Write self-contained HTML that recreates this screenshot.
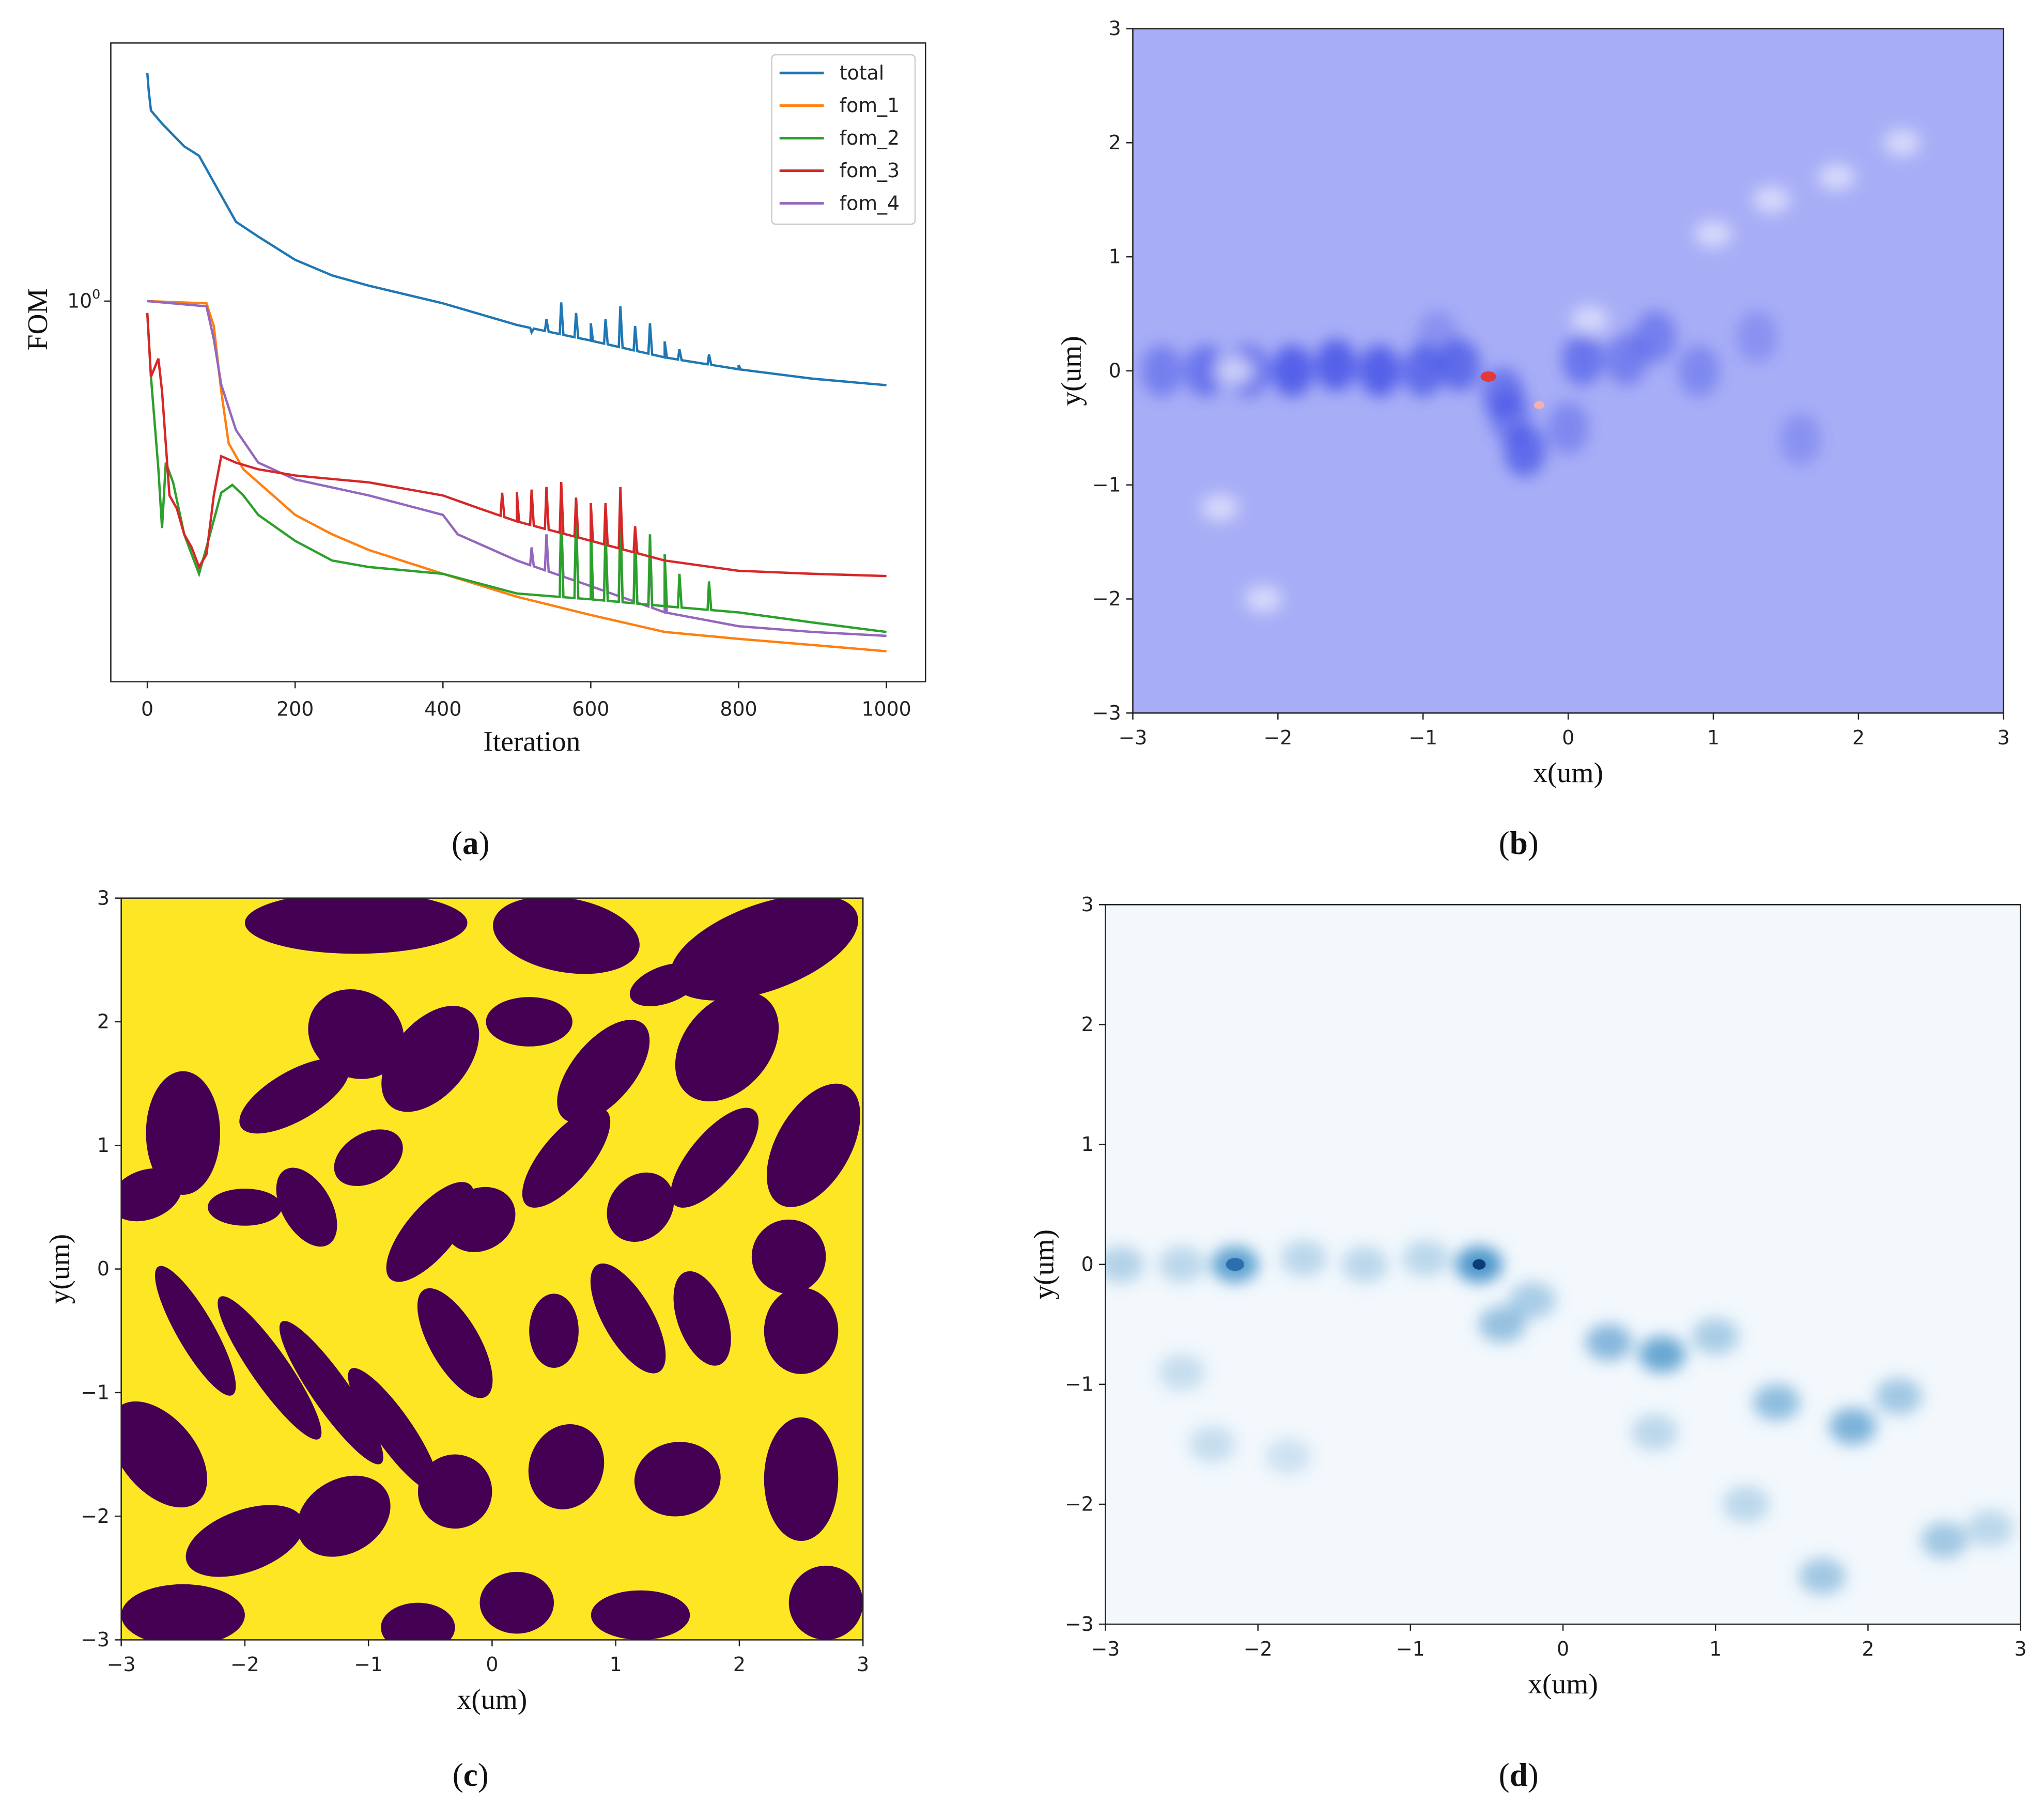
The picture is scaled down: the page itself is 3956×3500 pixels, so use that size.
<!DOCTYPE html>
<html><head><meta charset="utf-8">
<style>
html,body{margin:0;padding:0;background:#fff;}
svg{display:block;}
.tk{font-family:"DejaVu Sans","Liberation Sans",sans-serif;font-size:15px;fill:#222;}
.lb{font-family:"Liberation Serif",serif;font-size:22px;fill:#111;}
.pl{font-family:"Liberation Serif",serif;font-size:25px;fill:#111;}
.lg{font-family:"DejaVu Sans","Liberation Sans",sans-serif;font-size:15px;fill:#222;}
</style></head>
<body>
<svg id="fig" width="3956" height="3500" viewBox="0 0 1568 1387" preserveAspectRatio="none" xmlns="http://www.w3.org/2000/svg">
<defs>
<clipPath id="cb"><rect x="869" y="22" width="668" height="525"/></clipPath>
<clipPath id="cc"><rect x="93" y="689" width="569" height="569"/></clipPath>
<clipPath id="cd"><rect x="848" y="694" width="702" height="552"/></clipPath>
<filter id="blur4"><feGaussianBlur stdDeviation="6"/></filter>
<filter id="blur2"><feGaussianBlur stdDeviation="1.2"/></filter>
</defs>
<g id="pa"></g>
<g id="pb"></g>
<g id="pc"></g>
<g id="pd"></g>
</svg>
<script>
// ---------- Panel (a) data ----------
const xTicks = [0, 200, 400, 600, 800, 1000];
const seriesNames = ["total", "fom_1", "fom_2", "fom_3", "fom_4"];
const seriesColors = ["#1f77b4", "#ff7f0e", "#2ca02c", "#d62728", "#9467bd"];
const totalIter = [0,2,5,20,50,70,90,120,150,200,250,300,400,500,600,700,800,900,1000];
const totalVal  = [2.74,2.53,2.32,2.19,1.98,1.90,1.69,1.42,1.33,1.20,1.12,1.07,0.99,0.90,0.84,0.78,0.74,0.71,0.69];
const fom1Iter = [0,80,90,100,110,130,200,250,300,400,500,600,700,800,900,1000];
const fom1Val  = [1.0,0.99,0.896,0.672,0.534,0.476,0.389,0.357,0.333,0.300,0.271,0.250,0.232,0.225,0.219,0.213];
const fom2Iter = [0,5,15,20,25,35,50,60,70,80,100,115,130,150,200,250,300,400,500,600,700,800,900,1000];
const fom2Val  = [0.949,0.716,0.476,0.367,0.490,0.449,0.357,0.327,0.300,0.337,0.429,0.444,0.424,0.389,0.347,0.318,0.309,0.300,0.275,0.268,0.260,0.253,0.242,0.232];
const fom3Iter = [0,5,15,20,30,40,50,60,70,80,90,100,120,150,200,300,400,450,500,600,700,800,900,1000];
const fom3Val  = [0.949,0.716,0.776,0.672,0.424,0.400,0.357,0.337,0.309,0.327,0.424,0.504,0.490,0.476,0.463,0.449,0.424,0.400,0.378,0.347,0.318,0.304,0.300,0.297];
const fom4Iter = [0,80,90,100,120,150,200,300,400,420,500,600,700,800,900,1000];
const fom4Val  = [1.0,0.977,0.846,0.692,0.566,0.490,0.455,0.424,0.389,0.357,0.318,0.284,0.253,0.238,0.232,0.228];
const spikeIter = [480,500,520,540,560,580,600,620,640,660,680,700,720,760,800];
const totalSpike = [0,0,0.871,0.923,0.994,0.949,0.907,0.923,0.977,0.896,0.907,0.837,0.808,0.79,0.754];
const fom2Spike  = [0,0,0,0,0.40,0.40,0.389,0.367,0.395,0.367,0.357,0.327,0.300,0.29,0];
const fom3Spike  = [0.429,0.43,0.435,0.44,0.45,0.42,0.41,0.41,0.44,0.37,0,0,0,0,0];
const fom4Spike  = [0,0,0.337,0.357,0.378,0.357,0.347,0.357,0.378,0.337,0.337,0.300,0,0,0];

const NS = "http://www.w3.org/2000/svg";
function mk(tag, attrs, parent) {
  const e = document.createElementNS(NS, tag);
  for (const k in attrs) e.setAttribute(k, attrs[k]);
  parent.appendChild(e);
  return e;
}
function txt(parent, x, y, s, cls, anchor, extra) {
  const t = mk("text", Object.assign({x: x, y: y, class: cls, "text-anchor": anchor || "middle"}, extra || {}), parent);
  t.textContent = s;
  return t;
}
// axes for (a)
const A = {x0: 85, x1: 710, y0: 33, y1: 523};
const ax = i => 113 + (i / 1000) * (680 - 113);
const ay = v => 231 - Math.log10(v) * 400;

const pa = document.getElementById("pa");
const frameA = mk("rect", {x: A.x0, y: A.y0, width: A.x1 - A.x0, height: A.y1 - A.y0, fill: "none", stroke: "#222", "stroke-width": 1}, pa);


xTicks.forEach(t => {
  mk("line", {x1: ax(t), x2: ax(t), y1: A.y1, y2: A.y1 + 5, stroke: "#222"}, pa);
  const tl = txt(pa, ax(t), A.y1 + 26, String(t), "tk");
  
  
});
mk("line", {x1: A.x0 - 5, x2: A.x0, y1: ay(1), y2: ay(1), stroke: "#222"}, pa);
const yt = txt(pa, A.x0 - 8, ay(1) + 5, "10", "tk", "end");
const sup = mk("tspan", {dy: -7, "font-size": 10}, yt); sup.textContent = "0";


const xl = txt(pa, 408, 576, "Iteration", "lb");


const yl = txt(pa, 36, 245, "FOM", "lb", "middle", {transform: "rotate(-90 36 245)"});


const la = txt(pa, 361, 655, "", "pl");
la.innerHTML = '(<tspan font-weight="bold">a</tspan>)';



function interp(iters, vals, i) {
  for (let k = 0; k < iters.length - 1; k++) {
    if (i >= iters[k] && i <= iters[k + 1]) {
      const f = (i - iters[k]) / (iters[k + 1] - iters[k]);
      return Math.pow(10, Math.log10(vals[k]) * (1 - f) + Math.log10(vals[k + 1]) * f);
    }
  }
  return vals[vals.length - 1];
}
function buildPts(iters, vals, spikes) {
  let pts = iters.map((t, k) => [t, vals[k]]);
  spikeIter.forEach((s, k) => {
    if (spikes && spikes[k] > 0) {
      const b1 = interp(iters, vals, s - 2), b2 = interp(iters, vals, s + 3);
      pts.push([s - 2, b1], [s, spikes[k]], [s + 3, b2]);
    }
  });
  pts.sort((p, q) => p[0] - q[0]);
  return pts;
}
const allSeries = [
  [totalIter, totalVal, totalSpike],
  [fom1Iter, fom1Val, null],
  [fom2Iter, fom2Val, fom2Spike],
  [fom3Iter, fom3Val, fom3Spike],
  [fom4Iter, fom4Val, fom4Spike]
];
const drawOrder = [1, 4, 2, 3, 0];
drawOrder.forEach(si => {
  const s = allSeries[si];
  const pts = buildPts(s[0], s[1], s[2]);
  const d = pts.map((p, k) => (k ? "L" : "M") + ax(p[0]).toFixed(1) + " " + ay(p[1]).toFixed(1)).join(" ");
  const path = mk("path", {d: d, fill: "none", stroke: seriesColors[si], "stroke-width": 1.8}, pa);
  
  
});
// legend
const lgBox = mk("rect", {x: 592, y: 42, width: 110, height: 130, fill: "#fff", "fill-opacity": 0.85, stroke: "#ccc", rx: 3}, pa);


seriesNames.forEach((n, k) => {
  const y = 56 + k * 25;
  const ln = mk("line", {x1: 598, x2: 632, y1: y, y2: y, stroke: seriesColors[k], "stroke-width": 2}, pa);
  
  
  const t = txt(pa, 644, y + 5, n, "lg", "start");
  
  
});

// ---------- heatmap axes helper ----------
const umTicks = [-3, -2, -1, 0, 1, 2, 3];
function umLabel(t) { return t < 0 ? "\u2212" + (-t) : String(t); }
function heatAxes(g, B, letter, lx, ly) {
  const fx = u => B.x0 + (u + 3) / 6 * (B.x1 - B.x0);
  const fy = u => B.y1 - (u + 3) / 6 * (B.y1 - B.y0);
  const fr = mk("rect", {x: B.x0, y: B.y0, width: B.x1 - B.x0, height: B.y1 - B.y0, fill: "none", stroke: "#222"}, g);
  
  
  umTicks.forEach(t => {
    mk("line", {x1: fx(t), x2: fx(t), y1: B.y1, y2: B.y1 + 5, stroke: "#222"}, g);
    const a = txt(g, fx(t), B.y1 + 24, umLabel(t), "tk");
    
    
    mk("line", {x1: B.x0 - 5, x2: B.x0, y1: fy(t), y2: fy(t), stroke: "#222"}, g);
    const b = txt(g, B.x0 - 9, fy(t) + 5, umLabel(t), "tk", "end");
    
    
  });
  const xlab = txt(g, (B.x0 + B.x1) / 2, B.y1 + 53, "x(um)", "lb");
  
  
  const yx = B.x0 - 40, yy = (B.y0 + B.y1) / 2;
  const ylab = txt(g, yx, yy, "y(um)", "lb", "middle", {transform: "rotate(-90 " + yx + " " + yy + ")"});
  
  
  const pl = txt(g, lx, ly, "", "pl");
  pl.innerHTML = '(<tspan font-weight="bold">' + letter + '</tspan>)';
  
  
  return [fx, fy];
}

// ---------- Panel (b) ----------
const pb = document.getElementById("pb");
const Bb = {x0: 869, x1: 1537, y0: 22, y1: 547};
const bx = u => Bb.x0 + (u + 3) / 6 * (Bb.x1 - Bb.x0);
const by = u => Bb.y1 - (u + 3) / 6 * (Bb.y1 - Bb.y0);
const gb = mk("g", {"clip-path": "url(#cb)"}, pb);


mk("rect", {x: Bb.x0, y: Bb.y0, width: 668, height: 525, fill: "#a8aef6"}, gb);
const bBlobX = [-2.8,-2.5,-2.2,-1.9,-1.6,-1.3,-1.0,-0.75,-0.45,-0.3,0.1,0.4,0.6,-0.4,0.0,0.9,1.3,-0.9,1.6];
const bBlobY = [0.0,0.0,0.0,0.0,0.05,0.0,0.0,0.05,-0.2,-0.7,0.1,0.1,0.3,-0.4,-0.5,0.0,0.3,0.3,-0.6];
const bBlobDark = [0.5,0.6,0.6,0.8,0.8,0.8,0.7,0.7,0.6,0.7,0.6,0.5,0.5,0.5,0.4,0.4,0.3,0.3,0.3];
const gbl = mk("g", {filter: "url(#blur4)"}, gb);
bBlobX.forEach((u, k) => {
  const e = mk("ellipse", {cx: bx(u), cy: by(bBlobY[k]), rx: 16, ry: 20, fill: "#3f4ee6", "fill-opacity": bBlobDark[k]}, gbl);
  
  
});
const bLightX = [-2.3, 0.15, 1.4, 1.85, -2.4, -2.1, 1.0, 2.3];
const bLightY = [0.0, 0.45, 1.5, 1.7, -1.2, -2.0, 1.2, 2.0];
bLightX.forEach((u, k) => {
  mk("ellipse", {cx: bx(u), cy: by(bLightY[k]), rx: 14, ry: 10, fill: "#e4e6fc", "fill-opacity": 0.8}, gbl);
});
mk("ellipse", {cx: bx(-0.55), cy: by(-0.05), rx: 6, ry: 4, fill: "#e23a3a"}, gb);
mk("ellipse", {cx: bx(-0.2), cy: by(-0.3), rx: 4, ry: 3, fill: "#f2b0b0"}, gb);
heatAxes(pb, Bb, "b", 1165, 655);

// ---------- Panel (c) ----------
const pc = document.getElementById("pc");
const Bc = {x0: 93, x1: 662, y0: 689, y1: 1258};
const cx_ = u => Bc.x0 + (u + 3) / 6 * (Bc.x1 - Bc.x0);
const cy_ = u => Bc.y1 - (u + 3) / 6 * (Bc.y1 - Bc.y0);
const gc = mk("g", {"clip-path": "url(#cc)"}, pc);


mk("rect", {x: Bc.x0, y: Bc.y0, width: 569, height: 569, fill: "#fde725"}, gc);
// purple features: [x, y, rx, ry, angle] in um
const cPx = [-1.1,0.6,2.2,-2.5,-1.6,-1.1,-0.5,0.3,0.9,1.4,1.9,2.6,-2.8,-2.0,-1.5,-1.0,-0.5,-0.1,0.6,1.2,1.8,2.4,-2.4,-1.8,-1.3,-0.8,-0.3,0.5,1.1,1.7,2.5,-2.7,-2.0,-1.2,-0.3,0.6,1.5,2.5,-2.5,2.7,1.2,-0.6,0.2];
const cPy = [2.8,2.7,2.6,1.1,1.4,1.9,1.7,2.0,1.6,2.3,1.8,1.0,0.6,0.5,0.5,0.9,0.3,0.4,0.9,0.5,0.9,0.1,-0.5,-0.8,-1.0,-1.3,-0.6,-0.5,-0.4,-0.4,-0.5,-1.5,-2.2,-2.0,-1.8,-1.6,-1.7,-1.7,-2.8,-2.7,-2.8,-2.9,-2.7];
const cPrx = [0.9,0.6,0.8,0.3,0.5,0.4,0.3,0.35,0.25,0.3,0.35,0.3,0.3,0.3,0.2,0.3,0.2,0.3,0.2,0.25,0.2,0.3,0.15,0.15,0.15,0.15,0.2,0.2,0.2,0.2,0.3,0.3,0.5,0.4,0.3,0.3,0.35,0.3,0.5,0.3,0.4,0.3,0.3];
const cPry = [0.25,0.3,0.35,0.5,0.2,0.35,0.5,0.2,0.5,0.15,0.5,0.55,0.2,0.15,0.35,0.2,0.5,0.25,0.5,0.3,0.5,0.3,0.6,0.7,0.7,0.6,0.5,0.3,0.5,0.4,0.35,0.5,0.25,0.3,0.3,0.35,0.3,0.5,0.25,0.3,0.2,0.2,0.25];
const cPang = [0,10,-20,0,-30,30,40,0,40,-20,40,30,-20,0,-30,-30,40,-30,40,40,40,10,-30,-35,-35,-35,-30,0,-30,-20,0,-40,-20,-30,-10,20,-10,0,0,0,0,0,0];
cPx.forEach((u, k) => {
  const sx = (Bc.x1 - Bc.x0) / 6;
  const e = mk("ellipse", {cx: cx_(u), cy: cy_(cPy[k]), rx: cPrx[k] * sx, ry: cPry[k] * sx, fill: "#440154",
    transform: "rotate(" + cPang[k] + " " + cx_(u) + " " + cy_(cPy[k]) + ")"}, gc);
  
  
});
heatAxes(pc, Bc, "c", 361, 1370);

// ---------- Panel (d) ----------
const pd = document.getElementById("pd");
const Bd = {x0: 848, x1: 1550, y0: 694, y1: 1246};
const dx = u => Bd.x0 + (u + 3) / 6 * (Bd.x1 - Bd.x0);
const dy = u => Bd.y1 - (u + 3) / 6 * (Bd.y1 - Bd.y0);
const gd = mk("g", {"clip-path": "url(#cd)"}, pd);


mk("rect", {x: Bd.x0, y: Bd.y0, width: 702, height: 552, fill: "#f3f8fd"}, gd);
const dBlobX = [-2.9,-2.5,-2.15,-1.7,-1.3,-0.9,-0.55,-0.4,-0.2,0.3,0.65,1.0,1.4,1.9,2.2,1.7,2.5,2.8,0.6,1.2,-2.5,-2.3,-1.8];
const dBlobY = [0.0,0.0,0.0,0.05,0.0,0.05,0.0,-0.5,-0.3,-0.65,-0.75,-0.6,-1.15,-1.35,-1.1,-2.6,-2.3,-2.2,-1.4,-2.0,-0.9,-1.5,-1.6];
const dBlobA = [0.35,0.3,0.8,0.3,0.3,0.3,0.9,0.5,0.4,0.6,0.75,0.4,0.55,0.65,0.45,0.45,0.45,0.3,0.3,0.3,0.25,0.25,0.2];
const gdl = mk("g", {filter: "url(#blur4)"}, gd);
dBlobX.forEach((u, k) => {
  const e = mk("ellipse", {cx: dx(u), cy: dy(dBlobY[k]), rx: 18, ry: 14, fill: "#3a8cc4", "fill-opacity": dBlobA[k]}, gdl);
  
  
});
mk("ellipse", {cx: dx(-0.55), cy: dy(0.0), rx: 5, ry: 4, fill: "#0b3d7a"}, gd);
mk("ellipse", {cx: dx(-2.15), cy: dy(0.0), rx: 7, ry: 5, fill: "#2b6fb0"}, gd);
heatAxes(pd, Bd, "d", 1165, 1370);
</script>
</body></html>
